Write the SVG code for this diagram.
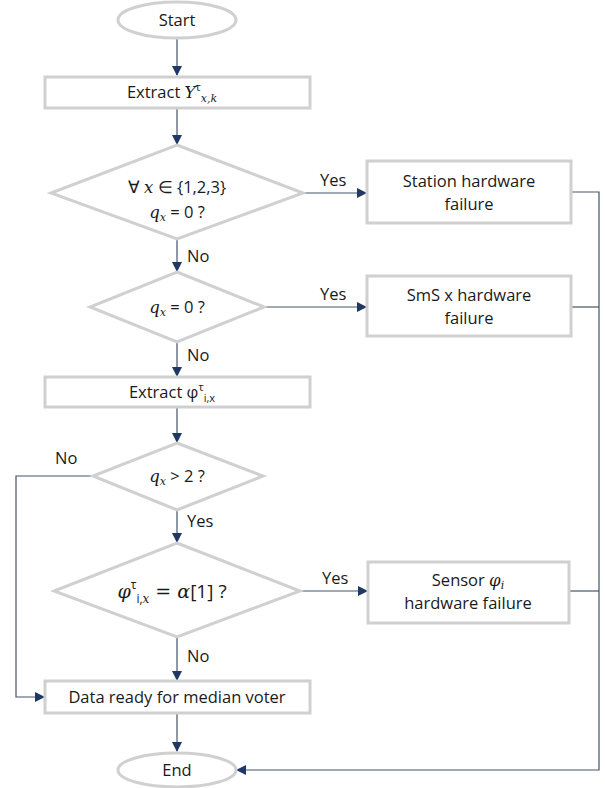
<svg xmlns="http://www.w3.org/2000/svg" width="605" height="788" viewBox="0 0 605 788">
<style>
.n{fill:#fff;stroke:#d0d0d0;stroke-width:3}
.t{font-family:"Open Sans","Noto Sans",sans-serif;font-size:16.5px;fill:#1a1a1a;text-anchor:middle}
.l{font-family:"Open Sans","Noto Sans",sans-serif;font-size:16.5px;fill:#1a1a1a}
.m{font-family:"DejaVu Serif","Liberation Serif",serif;font-style:italic}
.s{font-size:11px}
.c{fill:none;stroke:#44546a;stroke-width:1.2}
</style>
<defs>
<marker id="a" viewBox="0 0 10 10" refX="9" refY="5" markerWidth="10" markerHeight="10" markerUnits="userSpaceOnUse" orient="auto">
<path d="M0,0 L10,5 L0,10 z" fill="#1f3864"/>
</marker>
</defs>
<g id="connectors">
<path class="c" d="M177,39 V75" marker-end="url(#a)"/>
<path class="c" d="M177,109 V144" marker-end="url(#a)"/>
<path class="c" d="M303,193 H366" marker-end="url(#a)"/>
<path class="c" d="M177,239 V271" marker-end="url(#a)"/>
<path class="c" d="M264,307 H366" marker-end="url(#a)"/>
<path class="c" d="M177,342 V376" marker-end="url(#a)"/>
<path class="c" d="M177,408 V442" marker-end="url(#a)"/>
<path class="c" d="M177,510 V542" marker-end="url(#a)"/>
<path class="c" d="M300,591 H367" marker-end="url(#a)"/>
<path class="c" d="M177,637 V680" marker-end="url(#a)"/>
<path class="c" d="M93,476 H16 V697 H44" marker-end="url(#a)"/>
<path class="c" d="M177,713 V751" marker-end="url(#a)"/>
<path class="c" d="M571,192 H599 V770 H237" marker-end="url(#a)"/>
<path class="c" d="M571,307 H599"/>
<path class="c" d="M569,591 H599"/>
<text class="l" x="320" y="186">Yes</text>
<text class="l" x="320" y="300">Yes</text>
<text class="l" x="322" y="584">Yes</text>
<text class="l" x="187" y="262">No</text>
<text class="l" x="187" y="361">No</text>
<text class="l" x="55" y="464">No</text>
<text class="l" x="187" y="527">Yes</text>
<text class="l" x="187" y="662">No</text>
</g>
<g id="start">
<ellipse class="n" cx="177" cy="20" rx="59" ry="18"/>
<text class="t" x="177" y="26">Start</text>
</g>
<g id="extractY">
<rect class="n" x="45" y="77" width="265" height="31"/>
<text class="t" x="172" y="98">Extract <tspan class="m">Y</tspan><tspan class="s" dy="-7">τ</tspan><tspan class="m s" dy="11">x,k</tspan></text>
</g>
<g id="decision1">
<polygon class="n" points="177,145 303,193 177,239 51,193"/>
<text class="t" x="177" y="193">∀ <tspan class="m">x</tspan> ∈ {1,2,3}</text>
<text class="t" x="177" y="218"><tspan class="m">q</tspan><tspan class="m s" dy="3">x</tspan><tspan dy="-3"> = 0 ?</tspan></text>
</g>
<g id="station">
<rect class="n" x="367" y="161" width="204" height="62"/>
<text class="t" x="469" y="187">Station hardware</text>
<text class="t" x="469" y="210">failure</text>
</g>
<g id="decision2">
<polygon class="n" points="177,272 264,307 177,342 90,307"/>
<text class="t" x="177" y="313"><tspan class="m">q</tspan><tspan class="m s" dy="3">x</tspan><tspan dy="-3"> = 0 ?</tspan></text>
</g>
<g id="sms">
<rect class="n" x="367" y="276" width="204" height="60"/>
<text class="t" x="469" y="301">SmS x hardware</text>
<text class="t" x="469" y="324">failure</text>
</g>
<g id="extractPhi">
<rect class="n" x="45" y="377" width="265" height="30"/>
<text class="t" x="172" y="398">Extract φ<tspan class="s" dy="-7">τ</tspan><tspan class="s" dy="11">i,x</tspan></text>
</g>
<g id="decision3">
<polygon class="n" points="177,443 263,476 177,510 93,476"/>
<text class="t" x="177" y="482"><tspan class="m">q</tspan><tspan class="m s" dy="3">x</tspan><tspan dy="-3"> &gt; 2 ?</tspan></text>
</g>
<g id="decision4">
<polygon class="n" points="177,543 300,591 177,637 54,591"/>
<text class="t" x="172" y="598" style="font-size:19px"><tspan class="m">φ</tspan><tspan style="font-size:12px" dy="-9">τ</tspan><tspan style="font-size:12px" dy="14">i,<tspan class="m">x</tspan></tspan><tspan dy="-5" class="m"> = </tspan><tspan class="m">α</tspan><tspan>[1] ?</tspan></text>
</g>
<g id="sensor">
<rect class="n" x="368" y="562" width="201" height="61"/>
<text class="t" x="468" y="586">Sensor <tspan class="m">φ</tspan><tspan class="m s" dy="3">i</tspan></text>
<text class="t" x="468" y="609">hardware failure</text>
</g>
<g id="data">
<rect class="n" x="45" y="681" width="265" height="32"/>
<text class="t" x="177" y="703">Data ready for median voter</text>
</g>
<g id="end">
<ellipse class="n" cx="177" cy="770" rx="59" ry="17"/>
<text class="t" x="177" y="776">End</text>
</g>
</svg>
